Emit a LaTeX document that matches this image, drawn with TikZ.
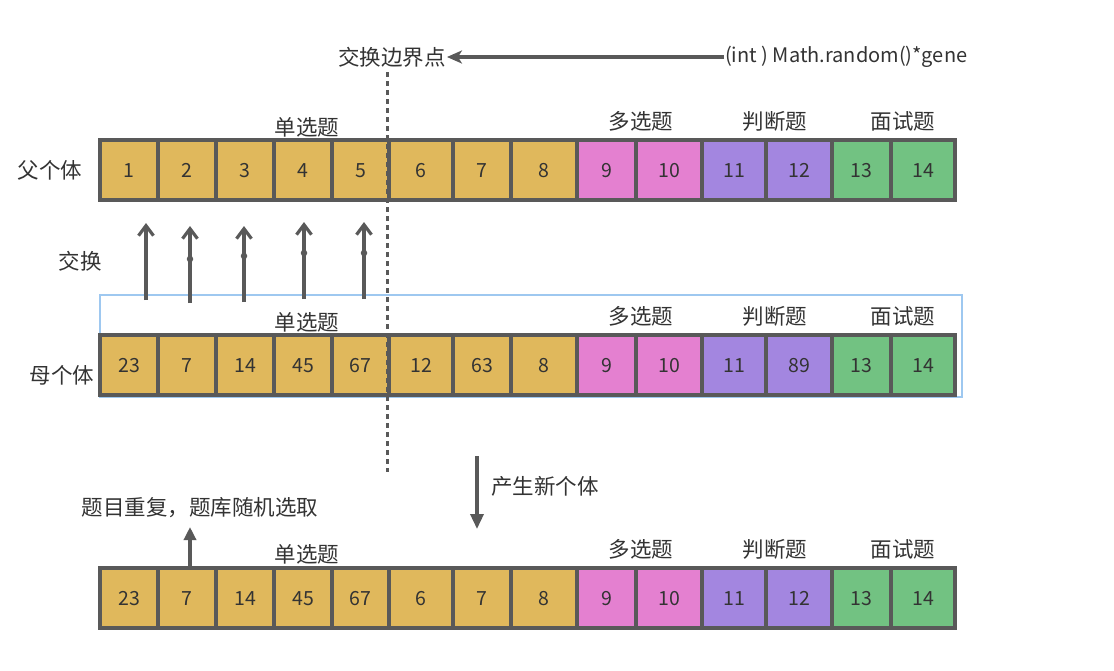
\documentclass[tikz,border=0pt]{standalone}
\usepackage{fontspec}
\setmainfont{Noto Sans CJK SC}
\usetikzlibrary{arrows.meta}
\definecolor{cy}{HTML}{E0B85C}
\definecolor{cp}{HTML}{E480D0}
\definecolor{cu}{HTML}{A386E0}
\definecolor{cg}{HTML}{72C282}
\definecolor{edge}{HTML}{595959}
\definecolor{txt}{HTML}{333333}
\definecolor{boxblue}{HTML}{9EC8F0}
\begin{document}
\begin{tikzpicture}[x=1pt,y=-1pt,
  every node/.style={text=txt, font=\fontsize{21.5}{24}\selectfont},
  cell/.style={draw=edge, line width=3.3pt, minimum height=60pt, inner sep=0pt, text height=14pt, text depth=0pt, font=\fontsize{19.5}{22}\selectfont},
  lbl/.style={inner sep=1pt},
  conn/.style={draw=edge, line width=3.4pt},
  dotmark/.style={circle, fill=edge, inner sep=0pt, minimum size=6.5pt}]
\useasboundingbox (0,0) rectangle (1114,670);
% blue frame around the mother row
\draw[boxblue, line width=1.2pt] (100,295) rectangle (962,397);
% rows
\foreach \a/\b/\c/\t [count=\k] in {100/158/cy/1,158/216/cy/2,216/274/cy/3,274/332/cy/4,332/389/cy/5,389/453/cy/6,453/511/cy/7,511/577/cy/8,577/636/cp/9,636/702/cp/10,702/766/cu/11,766/832/cu/12,832/891/cg/13,891/955/cg/14}
  \node[cell, fill=\c, minimum width={\b-\a}] (r1c\k) at ({(\a+\b)/2},170) {\t};
\foreach \a/\b/\c/\t [count=\k] in {100/158/cy/23,158/216/cy/7,216/274/cy/14,274/332/cy/45,332/389/cy/67,389/453/cy/12,453/511/cy/63,511/577/cy/8,577/636/cp/9,636/702/cp/10,702/766/cu/11,766/832/cu/89,832/891/cg/13,891/955/cg/14}
  \node[cell, fill=\c, minimum width={\b-\a}] (r2c\k) at ({(\a+\b)/2},365) {\t};
\foreach \a/\b/\c/\t [count=\k] in {100/158/cy/23,158/216/cy/7,216/274/cy/14,274/332/cy/45,332/389/cy/67,389/453/cy/6,453/511/cy/7,511/577/cy/8,577/636/cp/9,636/702/cp/10,702/766/cu/11,766/832/cu/12,832/891/cg/13,891/955/cg/14}
  \node[cell, fill=\c, minimum width={\b-\a}] (r3c\k) at ({(\a+\b)/2},598) {\t};
% group labels
\node[lbl] (s1) at (307,127) {单选题};
\node[lbl] (m1) at (641,121) {多选题};
\node[lbl] (j1) at (775,121) {判断题};
\node[lbl] (i1) at (903,121) {面试题};
\node[lbl] (s2) at (307,322) {单选题};
\node[lbl] (m2) at (641,316) {多选题};
\node[lbl] (j2) at (775,316) {判断题};
\node[lbl] (i2) at (903,316) {面试题};
\node[lbl] (s3) at (307,554) {单选题};
\node[lbl] (m3) at (641,549) {多选题};
\node[lbl] (j3) at (775,549) {判断题};
\node[lbl] (i3) at (903,549) {面试题};
% side labels
\node[lbl] (father) at (50,170) {父个体};
\node[lbl] (swaplbl) at (80,261) {交换};
\node[lbl] (mother) at (62,375) {母个体};
% boundary point
\node[lbl] (bound) at (392,57) {交换边界点};
\node[lbl, anchor=west, font=\fontsize{20}{24}\selectfont] (formula) at (724,57) {(int ) Math.random()*gene};
\draw[conn, -{Stealth[length=15pt,width=13pt,inset=4pt]}] (formula.west) -- (bound.east);
% dashed boundary
\coordinate (dtop) at (387,72);
\coordinate (dbot) at (387,472);
\draw[edge, line width=3pt, dash pattern=on 5pt off 4pt] (dtop) -- (dbot);
% swap arrows
\foreach \x/\yb/\yt [count=\k] in {146/300/223,190/303/226,244/302/226,304/299/222,364/299/222} {
  \coordinate (ab\k) at (\x,\yb);
  \coordinate (at\k) at (\x,\yt);
  \draw[conn, -{Straight Barb[length=10pt,width=15pt,line width=3.2pt]}] (ab\k) -- (at\k);
}
\node[dotmark] (d2) at (190,259) {};
\node[dotmark] (d3) at (244,256) {};
\node[dotmark] (d4) at (304,253) {};
\node[dotmark] (d5) at (364,253) {};
% produce new individual
\coordinate (pn1) at (477,456);
\coordinate (pn2) at (477,529);
\draw[conn, -{Triangle[length=15pt,width=13pt]}] (pn1) -- (pn2);
\node[lbl, anchor=west] (newind) at (490,486) {产生新个体};
% duplicate note
\node[lbl] (dup) at (200,508) {题目重复，题库随机选取};
\coordinate (dupend) at (190,527);
\draw[conn, -{Triangle[length=13pt,width=12pt]}] (dupend |- r3c2.north) -- (dupend);
\end{tikzpicture}
\end{document}
